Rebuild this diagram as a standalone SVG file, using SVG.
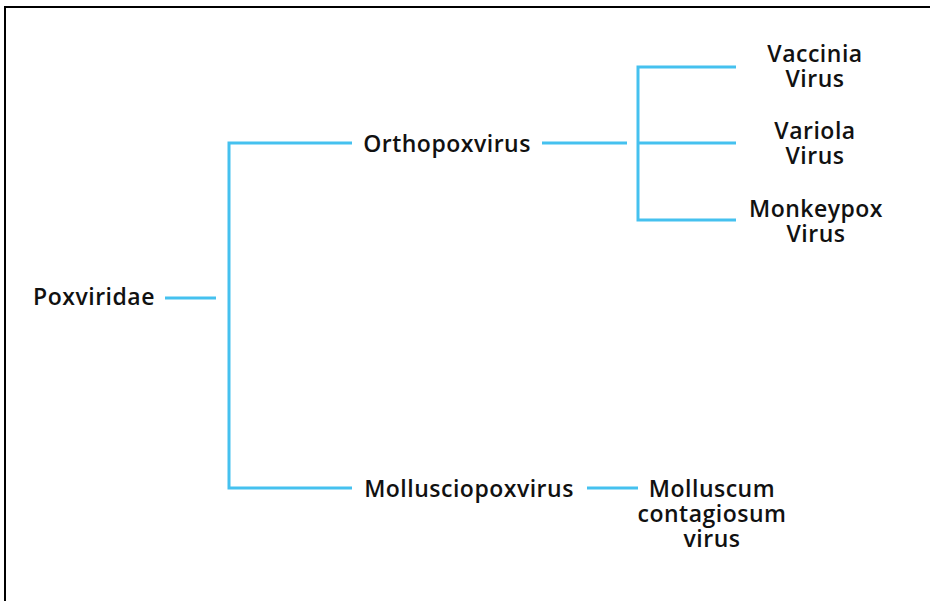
<svg xmlns="http://www.w3.org/2000/svg" width="930" height="601" viewBox="0 0 930 601">
<style>
.t{font-family:"Open Sans","Liberation Sans",sans-serif;font-size:23px;fill:#111;text-anchor:middle;font-weight:600;letter-spacing:0.5px}
.c{stroke:#45c1ef;stroke-width:3;fill:none}
</style>
<rect width="930" height="601" fill="#fff"/>
<path d="M5,601 V7 H930" stroke="#000" stroke-width="2" fill="none"/>
<g id="connectors">
<path class="c" d="M165,298 H216"/>
<path class="c" d="M352,143 H229 V488 H352"/>
<path class="c" d="M542,143 H627"/>
<path class="c" d="M736,67 H638 V220 H736 M638,143 H736"/>
<path class="c" d="M587,488 H638"/>
</g>
<g id="poxviridae"><text class="t" x="94" y="305">Poxviridae</text></g>
<g id="orthopoxvirus"><text class="t" x="447" y="152">Orthopoxvirus</text></g>
<g id="mollusciopoxvirus"><text class="t" x="469" y="497">Mollusciopoxvirus</text></g>
<g id="vaccinia"><text class="t" x="815" y="62">Vaccinia</text><text class="t" x="815" y="87">Virus</text></g>
<g id="variola"><text class="t" x="815" y="139">Variola</text><text class="t" x="815" y="164">Virus</text></g>
<g id="monkeypox"><text class="t" x="816" y="217">Monkeypox</text><text class="t" x="816" y="242">Virus</text></g>
<g id="molluscum"><text class="t" x="712" y="497">Molluscum</text><text class="t" x="712" y="522">contagiosum</text><text class="t" x="712" y="547">virus</text></g>
</svg>
